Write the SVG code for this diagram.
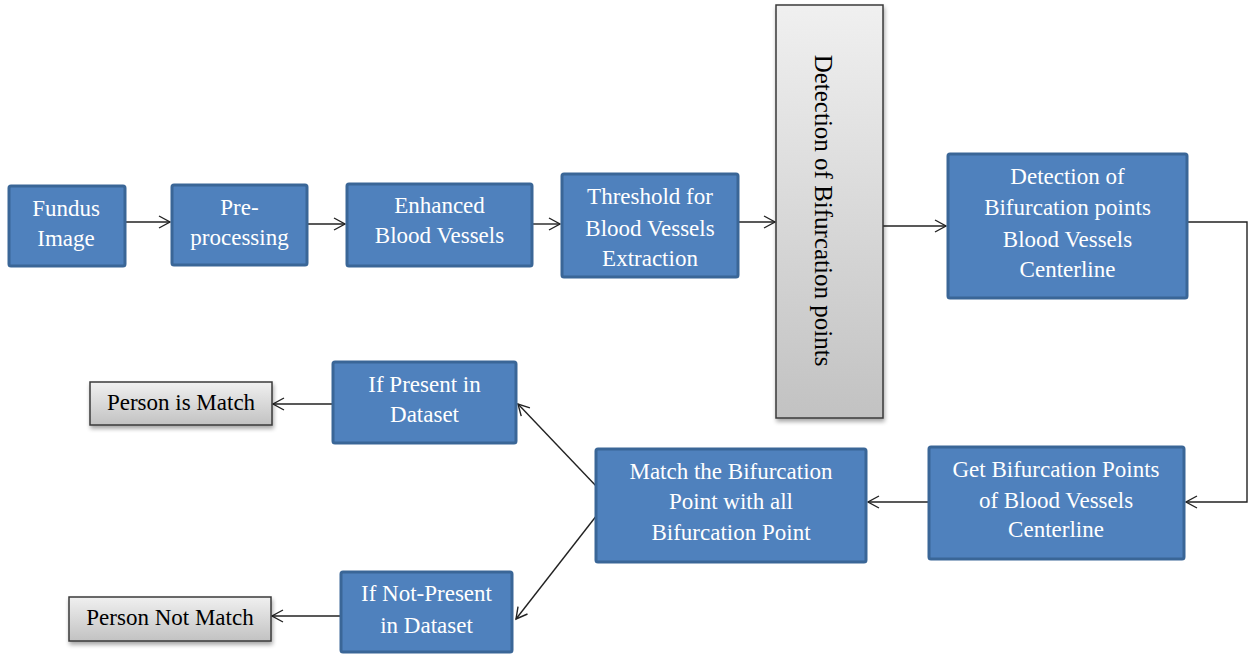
<svg xmlns="http://www.w3.org/2000/svg" width="1250" height="655" viewBox="0 0 1250 655">
  <defs>
    <linearGradient id="gray" x1="0" y1="0" x2="0" y2="1">
      <stop offset="0" stop-color="#f0f0f0"/>
      <stop offset="1" stop-color="#c2c2c2"/>
    </linearGradient>
    <filter id="shadow" x="-10%" y="-10%" width="130%" height="130%">
      <feGaussianBlur in="SourceAlpha" stdDeviation="2"/>
      <feOffset dx="1" dy="3" result="b"/>
      <feComponentTransfer><feFuncA type="linear" slope="0.35"/></feComponentTransfer>
      <feMerge><feMergeNode/><feMergeNode in="SourceGraphic"/></feMerge>
    </filter>
    <marker id="arr" markerWidth="14" markerHeight="14" refX="12" refY="7" orient="auto" markerUnits="userSpaceOnUse">
      <path d="M1,1 L12,7 L1,13" fill="none" stroke="#222" stroke-width="1.4"/>
    </marker>
  </defs>
  <style>
    .blue { fill: #4f81bd; stroke: #3a6697; stroke-width: 3; }
    .grayb { fill: url(#gray); stroke: #3a3a3a; stroke-width: 1.5; filter: url(#shadow); }
    .wt { font-family: "Liberation Serif", "Times New Roman", serif; font-size: 23px; fill: #ffffff; text-anchor: middle; }
    .bt { font-family: "Liberation Serif", "Times New Roman", serif; font-size: 23px; fill: #000000; text-anchor: middle; }
    .con { fill: none; stroke: #222; stroke-width: 1.4; }
  </style>
  <rect width="1250" height="655" fill="#ffffff"/>

  <g id="connectors">
    <line class="con" x1="126" y1="222" x2="170" y2="222" marker-end="url(#arr)"/>
    <line class="con" x1="308" y1="224" x2="345" y2="224" marker-end="url(#arr)"/>
    <line class="con" x1="533" y1="224" x2="560" y2="224" marker-end="url(#arr)"/>
    <line class="con" x1="739" y1="222" x2="775" y2="222" marker-end="url(#arr)"/>
    <line class="con" x1="883" y1="226" x2="946" y2="226" marker-end="url(#arr)"/>
    <polyline class="con" points="1188,222 1247,222 1247,502 1186,502" marker-end="url(#arr)"/>
    <line class="con" x1="928" y1="502" x2="868" y2="502" marker-end="url(#arr)"/>
    <line class="con" x1="597" y1="487" x2="518" y2="404" marker-end="url(#arr)"/>
    <line class="con" x1="597" y1="515" x2="516" y2="619" marker-end="url(#arr)"/>
    <line class="con" x1="332" y1="404" x2="273" y2="404" marker-end="url(#arr)"/>
    <line class="con" x1="340" y1="616" x2="272" y2="616" marker-end="url(#arr)"/>
  </g>

  <g id="fundus">
    <rect class="blue" x="9" y="186" width="116" height="80" rx="2"/>
    <text class="wt" x="66" y="216">Fundus</text>
    <text class="wt" x="66" y="246">Image</text>
  </g>
  <g id="preprocessing">
    <rect class="blue" x="172" y="185" width="135" height="80" rx="2"/>
    <text class="wt" x="239.5" y="215">Pre-</text>
    <text class="wt" x="239.5" y="245">processing</text>
  </g>
  <g id="enhanced">
    <rect class="blue" x="347" y="184" width="185" height="82" rx="2"/>
    <text class="wt" x="439.5" y="213">Enhanced</text>
    <text class="wt" x="439.5" y="243">Blood Vessels</text>
  </g>
  <g id="threshold">
    <rect class="blue" x="562" y="174" width="176" height="103" rx="2"/>
    <text class="wt" x="650" y="204">Threshold for</text>
    <text class="wt" x="650" y="236">Blood Vessels</text>
    <text class="wt" x="650" y="266">Extraction</text>
  </g>
  <g id="detection-vertical">
    <rect class="grayb" x="776" y="5" width="107" height="413"/>
    <text class="bt" font-size="25" style="font-size:25px" transform="translate(815,210.5) rotate(90)">Detection of Bifurcation points</text>
  </g>
  <g id="detection-centerline">
    <rect class="blue" x="948" y="154" width="239" height="144" rx="2"/>
    <text class="wt" x="1067.5" y="184">Detection of</text>
    <text class="wt" x="1067.5" y="215">Bifurcation points</text>
    <text class="wt" x="1067.5" y="247">Blood Vessels</text>
    <text class="wt" x="1067.5" y="277">Centerline</text>
  </g>
  <g id="get-points">
    <rect class="blue" x="929" y="447" width="255" height="112" rx="2"/>
    <text class="wt" x="1056" y="477">Get Bifurcation Points</text>
    <text class="wt" x="1056" y="508">of Blood Vessels</text>
    <text class="wt" x="1056" y="537">Centerline</text>
  </g>
  <g id="match">
    <rect class="blue" x="596" y="449" width="270" height="113" rx="2"/>
    <text class="wt" x="731" y="479">Match the Bifurcation</text>
    <text class="wt" x="731" y="509">Point with all</text>
    <text class="wt" x="731" y="540">Bifurcation Point</text>
  </g>
  <g id="if-present">
    <rect class="blue" x="333" y="362" width="183" height="81" rx="2"/>
    <text class="wt" x="424.5" y="392">If Present in</text>
    <text class="wt" x="424.5" y="422">Dataset</text>
  </g>
  <g id="if-not-present">
    <rect class="blue" x="341" y="572" width="171" height="80" rx="2"/>
    <text class="wt" x="426.5" y="601">If Not-Present</text>
    <text class="wt" x="426.5" y="633">in Dataset</text>
  </g>
  <g id="person-match">
    <rect class="grayb" x="90" y="382" width="182" height="43"/>
    <text class="bt" x="181" y="410">Person is Match</text>
  </g>
  <g id="person-not-match">
    <rect class="grayb" x="69" y="597" width="202" height="44"/>
    <text class="bt" x="170" y="625">Person Not Match</text>
  </g>
</svg>
